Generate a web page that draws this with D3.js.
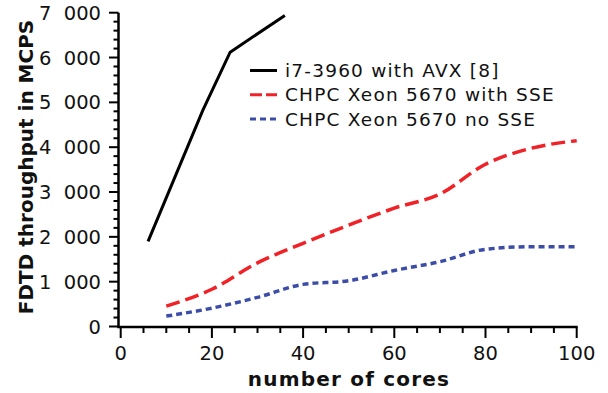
<!DOCTYPE html>
<html lang="en">
<head>
  <meta charset="UTF-8">
  <title>FDTD throughput</title>
  <script src="https://d3js.org/d3.v7.min.js"></script>
  <style>
    body { margin: 0; background: #fff; }
    svg { display: block; font-family: "DejaVu Sans", Verdana, sans-serif; }
    .tick-label { font-size: 19.5px; fill: #111; }
    .axis-title { font-size: 20px; font-weight: bold; fill: #111; }
    .legend text { font-size: 18.5px; fill: #111; letter-spacing: 1.2px; }
  </style>
</head>
<body>
  <svg id="chart" width="608" height="393"></svg>
  <script>
    // data
    const i7Cores = [6, 18, 24, 36];
    const i7Values = [1900, 4820, 6120, 6940];

    const xeonCores = [10, 20, 30, 40, 50, 60, 70, 80, 90, 100];
    const sseValues = [455, 830, 1420, 1855, 2260, 2640, 2955, 3620, 3975, 4145];
    const noSseValues = [232, 410, 650, 940, 1020, 1250, 1445, 1722, 1780, 1780];

    const xTicks = [0, 20, 40, 60, 80, 100];
    const yTicks = [0, 1000, 2000, 3000, 4000, 5000, 6000, 7000];

    const seriesNames = ["i7-3960 with AVX [8]", "CHPC Xeon 5670 with SSE", "CHPC Xeon 5670 no SSE"];

    const svg = d3.select("#chart");
    const x = d3.scaleLinear().domain([0, 100]).range([120.7, 576.7]);
    const y = d3.scaleLinear().domain([0, 7000]).range([326.5, 12.7]);
    // thousands separated by a figure space, like "7 000"
    const fmt = v => d3.format(",")(v).replace(",", "\u2007");

    // axes
    const axisColor = "#000";
    svg.append("line")
      .attr("x1", 118.5).attr("x2", 118.5)
      .attr("y1", y(7000)).attr("y2", 327.5)
      .attr("stroke", axisColor).attr("stroke-width", 2.5);
    svg.append("line")
      .attr("x1", 117.3).attr("x2", x(100) + 1)
      .attr("y1", 327).attr("y2", 327)
      .attr("stroke", axisColor).attr("stroke-width", 2.5);

    // y ticks (major every 1000, minor every 200)
    svg.append("g").selectAll("line")
      .data(d3.range(0, 7001, 200))
      .enter().append("line")
      .attr("x1", d => d % 1000 === 0 ? 109 : 113.5)
      .attr("x2", 118.5)
      .attr("y1", d => y(d)).attr("y2", d => y(d))
      .attr("stroke", axisColor).attr("stroke-width", 2);
    svg.append("g").selectAll("text")
      .data(yTicks)
      .enter().append("text")
      .attr("class", "tick-label")
      .attr("x", 101)
      .attr("y", d => y(d) + 7)
      .attr("text-anchor", "end")
      .text(fmt);

    // x ticks (major every 20, minor every 5)
    svg.append("g").selectAll("line")
      .data(d3.range(0, 101, 5))
      .enter().append("line")
      .attr("x1", d => x(d)).attr("x2", d => x(d))
      .attr("y1", 327)
      .attr("y2", d => d % 20 === 0 ? 338 : 333)
      .attr("stroke", axisColor).attr("stroke-width", 2);
    svg.append("g").selectAll("text")
      .data(xTicks)
      .enter().append("text")
      .attr("class", "tick-label")
      .attr("x", d => x(d))
      .attr("y", 360)
      .attr("text-anchor", "middle")
      .text(d => d);

    svg.append("text")
      .attr("class", "axis-title")
      .attr("x", 349).attr("y", 386)
      .attr("text-anchor", "middle")
      .style("letter-spacing", "1.2px")
      .text("number of cores");
    svg.append("text")
      .attr("class", "axis-title")
      .attr("transform", "translate(33,167) rotate(-90)")
      .attr("text-anchor", "middle")
      .text("FDTD throughput in MCPS");

    // series
    const line = d3.line().x(d => x(d[0])).y(d => y(d[1]));
    const smooth = d3.line().x(d => x(d[0])).y(d => y(d[1])).curve(d3.curveMonotoneX);

    const styles = [
      { color: "#000000", dash: null, width: 3 },
      { color: "#f02228", dash: "14,6", width: 3.5 },
      { color: "#3c4da8", dash: "6,4", width: 3.5 }
    ];

    svg.append("path")
      .datum(d3.zip(i7Cores, i7Values))
      .attr("d", line)
      .attr("fill", "none")
      .attr("stroke", styles[0].color)
      .attr("stroke-width", styles[0].width);
    svg.append("path")
      .datum(d3.zip(xeonCores, sseValues))
      .attr("d", smooth)
      .attr("fill", "none")
      .attr("stroke", styles[1].color)
      .attr("stroke-width", styles[1].width)
      .attr("stroke-dasharray", styles[1].dash);
    svg.append("path")
      .datum(d3.zip(xeonCores, noSseValues))
      .attr("d", smooth)
      .attr("fill", "none")
      .attr("stroke", styles[2].color)
      .attr("stroke-width", styles[2].width)
      .attr("stroke-dasharray", styles[2].dash);

    // legend
    const legend = svg.append("g").attr("class", "legend");
    seriesNames.forEach((name, i) => {
      const ly = 70.5 + i * 24.3;
      legend.append("line")
        .attr("x1", 250).attr("x2", 277)
        .attr("y1", ly).attr("y2", ly)
        .attr("stroke", styles[i].color)
        .attr("stroke-width", 3)
        .attr("stroke-dasharray", i === 1 ? "12,4" : styles[i].dash);
      legend.append("text")
        .attr("x", 285).attr("y", ly + 6.5)
        .text(name);
    });
  </script>
</body>
</html>
